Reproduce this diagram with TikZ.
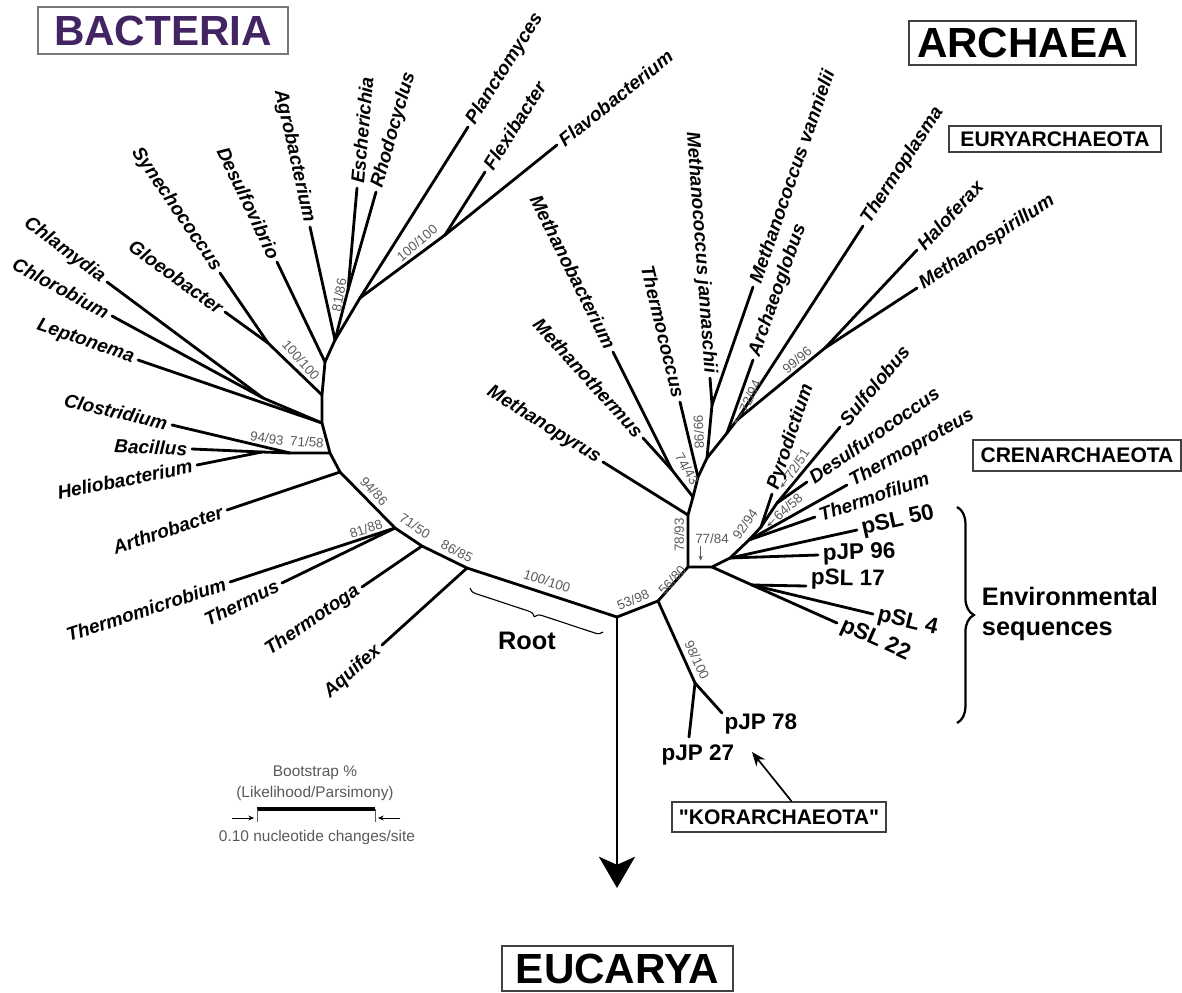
\documentclass[tikz,border=0pt]{standalone}
\usepackage{fontspec}
\setmainfont{Liberation Sans}[Ligatures=TeXOff]
\usetikzlibrary{arrows.meta}
\usetikzlibrary{decorations.pathreplacing}
\definecolor{bactpurple}{RGB}{66,36,99}
\definecolor{bootgray}{RGB}{90,90,90}
\definecolor{boxgray}{RGB}{120,120,120}
\tikzstyle{branch} = [line width=2pt, line cap=round, line join=round]
\tikzstyle{taxon} = [font=\fontsize{13.5}{15}\selectfont\bfseries\itshape, inner sep=2.5pt]
\tikzstyle{clone} = [font=\fontsize{16}{18}\selectfont\bfseries, inner sep=2.5pt]
\tikzstyle{boot} = [font=\fontsize{9.5}{11}\selectfont, text=bootgray, inner sep=1pt]
\tikzstyle{pointer} = [-{Stealth[length=3.5pt,width=3pt]}, line width=0.5pt, draw=bootgray]
\tikzstyle{bigbox} = [draw=black!75, line width=0.8pt, inner sep=0pt, font=\fontsize{30}{34}\selectfont\bfseries]
\tikzstyle{smallbox} = [draw=black!75, line width=0.8pt, inner sep=0pt, font=\fontsize{15}{17}\selectfont\bfseries]

\begin{document}
\begin{tikzpicture}[x=0.025cm, y=-0.025cm]
\useasboundingbox (0,0) rectangle (1182,992);

% domain boxes
\node[bigbox, draw=boxgray, text=bactpurple, minimum width=6.25cm, minimum height=1.175cm] (bactbox) at (163,30.5) {BACTERIA};
\node[bigbox, minimum width=5.675cm, minimum height=1.1cm] (archbox) at (1022.5,43) {ARCHAEA};
\node[bigbox, minimum width=5.775cm, minimum height=1.125cm] (eucbox) at (617.5,968.5) {EUCARYA};
\node[smallbox, minimum width=5.3cm, minimum height=0.65cm] (eurybox) at (1055,139) {EURYARCHAEOTA};
\node[smallbox, minimum width=5.2cm, minimum height=0.775cm] (crenbox) at (1077,455.5) {CRENARCHAEOTA};
\node[smallbox, minimum width=5.35cm, minimum height=0.75cm] (korbox) at (779,817) {"KORARCHAEOTA"};

% root and eucarya
\coordinate (root) at (617,617);
\coordinate (euc) at (617,888);
\draw[line width=2.1pt, -{Stealth[length=0.78cm, width=0.9cm, inset=0.2cm]}] (root) -- (euc);

% ---- bacteria ----
\coordinate (aq) at (467,568);
\coordinate (tt) at (422,546);
\coordinate (th) at (395,528);
\coordinate (ar) at (340,472);
\coordinate (bc) at (330,453);
\coordinate (lp) at (322,423);
\coordinate (gl) at (322,395);
\coordinate (ds) at (325,362);
\coordinate (pr) at (335,340);
\coordinate (firm) at (290,453);
\coordinate (bhel) at (262,452);
\coordinate (chla) at (263,398);
\coordinate (cyan) at (268,343);
\coordinate (ecrh) at (348,290);
\coordinate (plan) at (360,298);
\coordinate (flav) at (445,235);
\draw[branch] (root) -- (aq) -- (tt) -- (th) -- (ar) -- (bc) -- (lp) -- (gl) -- (ds) -- (pr);
\draw[branch] (bc) -- (firm) -- (bhel);
\draw[branch] (lp) -- (chla);
\draw[branch] (gl) -- (cyan);
\draw[branch] (pr) -- (ecrh);
\draw[branch] (pr) -- (plan) -- (flav);

\coordinate (aquifex) at (382,645);
\coordinate (thermotoga) at (362,587);
\coordinate (thermus) at (282,583);
\coordinate (thermomicrobium) at (230,582);
\coordinate (arthrobacter) at (227,510);
\coordinate (clostridium) at (172,425);
\coordinate (bacillus) at (192,449);
\coordinate (heliobacterium) at (197,465);
\coordinate (leptonema) at (138,360);
\coordinate (chlorobium) at (112,316);
\coordinate (chlamydia) at (107,282);
\coordinate (gloeobacter) at (225,312);
\coordinate (synechococcus) at (220,273);
\coordinate (desulfovibrio) at (277,262);
\coordinate (agrobacterium) at (310,227);
\coordinate (escherichia) at (357,188);
\coordinate (rhodocyclus) at (376,192);
\coordinate (planctomyces) at (468,127);
\coordinate (flexibacter) at (485,172);
\coordinate (flavobacterium) at (557,145);

\draw[branch] (aq) -- (aquifex) node[taxon, sloped, pos=1, anchor=east] (l-aquifex) {Aquifex};
\draw[branch] (tt) -- (thermotoga) node[taxon, sloped, pos=1, anchor=east] (l-thermotoga) {Thermotoga};
\draw[branch] (th) -- (thermus) node[taxon, sloped, pos=1, anchor=east] (l-thermus) {Thermus};
\draw[branch] (th) -- (thermomicrobium) node[taxon, sloped, pos=1, anchor=east] (l-thermomicrobium) {Thermomicrobium};
\draw[branch] (ar) -- (arthrobacter) node[taxon, sloped, pos=1, anchor=east] (l-arthrobacter) {Arthrobacter};
\draw[branch] (firm) -- (clostridium) node[taxon, sloped, pos=1, anchor=east] (l-clostridium) {Clostridium};
\draw[branch] (bhel) -- (bacillus) node[taxon, sloped, pos=1, anchor=east] (l-bacillus) {Bacillus};
\draw[branch] (bhel) -- (heliobacterium) node[taxon, sloped, pos=1, anchor=east] (l-heliobacterium) {Heliobacterium};
\draw[branch] (lp) -- (leptonema) node[taxon, sloped, pos=1, anchor=east] (l-leptonema) {Leptonema};
\draw[branch] (chla) -- (chlorobium) node[taxon, sloped, pos=1, anchor=east] (l-chlorobium) {Chlorobium};
\draw[branch] (chla) -- (chlamydia) node[taxon, sloped, pos=1, anchor=east] (l-chlamydia) {Chlamydia};
\draw[branch] (cyan) -- (gloeobacter) node[taxon, sloped, pos=1, anchor=east] (l-gloeobacter) {Gloeobacter};
\draw[branch] (cyan) -- (synechococcus) node[taxon, sloped, pos=1, anchor=east] (l-synechococcus) {Synechococcus};
\draw[branch] (ds) -- (desulfovibrio) node[taxon, sloped, pos=1, anchor=east] (l-desulfovibrio) {Desulfovibrio};
\draw[branch] (pr) -- (agrobacterium) node[taxon, sloped, pos=1, anchor=east] (l-agrobacterium) {Agrobacterium};
\draw[branch] (ecrh) -- (escherichia) node[taxon, sloped, pos=1, anchor=west] (l-escherichia) {Escherichia};
\draw[branch] (ecrh) -- (rhodocyclus) node[taxon, sloped, pos=1, anchor=west] (l-rhodocyclus) {Rhodocyclus};
\draw[branch] (plan) -- (planctomyces) node[taxon, sloped, pos=1, anchor=west] (l-planctomyces) {Planctomyces};
\draw[branch] (flav) -- (flexibacter) node[taxon, sloped, pos=1, anchor=west] (l-flexibacter) {Flexibacter};
\draw[branch] (flav) -- (flavobacterium) node[taxon, sloped, pos=1, anchor=west] (l-flavobacterium) {Flavobacterium};

% ---- archaea ----
\coordinate (ka) at (658,601);
\coordinate (kj) at (695,683);
\coordinate (c0) at (688,567);
\coordinate (cr) at (712,567);
\coordinate (e1) at (730,558);
\coordinate (e2) at (752,585);
\coordinate (e3) at (749,540);
\coordinate (e4) at (761,527);
\coordinate (e5) at (777,503);
\coordinate (ea) at (688,515);
\coordinate (ea2) at (693,497);
\coordinate (m1) at (672,470);
\coordinate (t1) at (698,477);
\coordinate (t2) at (707,458);
\coordinate (t3) at (712,405);
\coordinate (t4) at (727,433);
\coordinate (t5) at (737,420);
\coordinate (t6) at (825,348);
\draw[branch] (root) -- (ka) -- (c0) -- (cr) -- (e1) -- (e3) -- (e4) -- (e5);
\draw[branch] (ka) -- (kj);
\draw[branch] (cr) -- (e2);
\draw[branch] (c0) -- (ea) -- (ea2) -- (t1) -- (t2) -- (t3);
\draw[branch] (ea2) -- (m1);
\draw[branch] (t2) -- (t4) -- (t5) -- (t6);

\coordinate (methanopyrus) at (603,462);
\coordinate (methanobacterium) at (613,352);
\coordinate (methanothermus) at (643,438);
\coordinate (thermococcus) at (680,402);
\coordinate (jannaschii) at (710,378);
\coordinate (vannielii) at (753,287);
\coordinate (archaeoglobus) at (753,360);
\coordinate (thermoplasma) at (863,226);
\coordinate (haloferax) at (917,250);
\coordinate (methanospirillum) at (917,288);
\coordinate (thermofilum) at (815,517);
\coordinate (thermoproteus) at (847,485);
\coordinate (pyrodictium) at (772,494);
\coordinate (desulfurococcus) at (807,482);
\coordinate (sulfolobus) at (840,427);
\coordinate (pjp96) at (818,555);
\coordinate (psl50) at (857,530);
\coordinate (psl17) at (806,586);
\coordinate (psl4) at (873,614);
\coordinate (psl22) at (837,623);
\coordinate (pjp27) at (689,737);
\coordinate (pjp78) at (722,713);

\draw[branch] (ea) -- (methanopyrus) node[taxon, sloped, pos=1, anchor=east] (l-methanopyrus) {Methanopyrus};
\draw[branch] (m1) -- (methanobacterium) node[taxon, sloped, pos=1, anchor=east] (l-methanobacterium) {Methanobacterium};
\draw[branch] (m1) -- (methanothermus) node[taxon, sloped, pos=1, anchor=east] (l-methanothermus) {Methanothermus};
\draw[branch] (t1) -- (thermococcus) node[taxon, sloped, pos=1, anchor=east] (l-thermococcus) {Thermococcus};
\draw[branch] (t3) -- (jannaschii) node[taxon, sloped, pos=1, anchor=east] (l-jannaschii) {Methanococcus jannaschii};
\draw[branch] (t3) -- (vannielii) node[taxon, sloped, pos=1, anchor=west] (l-vannielii) {Methanococcus vannielii};
\draw[branch] (t4) -- (archaeoglobus) node[taxon, sloped, pos=1, anchor=west] (l-archaeoglobus) {Archaeoglobus};
\draw[branch] (t5) -- (thermoplasma) node[taxon, sloped, pos=1, anchor=west] (l-thermoplasma) {Thermoplasma};
\draw[branch] (t6) -- (haloferax) node[taxon, sloped, pos=1, anchor=west] (l-haloferax) {Haloferax};
\draw[branch] (t6) -- (methanospirillum) node[taxon, sloped, pos=1, anchor=west] (l-methanospirillum) {Methanospirillum};
\draw[branch] (e3) -- (thermofilum) node[taxon, sloped, pos=1, anchor=west] (l-thermofilum) {Thermofilum};
\draw[branch] (e3) -- (thermoproteus) node[taxon, sloped, pos=1, anchor=west] (l-thermoproteus) {Thermoproteus};
\draw[branch] (e4) -- (pyrodictium) node[taxon, sloped, pos=1, anchor=west] (l-pyrodictium) {Pyrodictium};
\draw[branch] (e5) -- (desulfurococcus) node[taxon, sloped, pos=1, anchor=west] (l-desulfurococcus) {Desulfurococcus};
\draw[branch] (e5) -- (sulfolobus) node[taxon, sloped, pos=1, anchor=west] (l-sulfolobus) {Sulfolobus};
\draw[branch] (e1) -- (pjp96) node[clone, sloped, pos=1, anchor=west] (l-pjp96) {pJP 96};
\draw[branch] (e1) -- (psl50) node[clone, sloped, pos=1, anchor=west] (l-psl50) {pSL 50};
\draw[branch] (e2) -- (psl17) node[clone, sloped, pos=1, anchor=west, yshift=5pt] (l-psl17) {pSL 17};
\draw[branch] (e2) -- (psl4) node[clone, sloped, pos=1, anchor=west] (l-psl4) {pSL 4};
\draw[branch] (e2) -- (psl22) node[clone, sloped, pos=1, anchor=west] (l-psl22) {pSL 22};
\draw[branch] (kj) -- (pjp27);
\draw[branch] (kj) -- (pjp78);
\node[clone] (l-pjp27) at (698,755) {pJP 27};
\node[clone] (l-pjp78) at (761,724) {pJP 78};

% bootstrap values
\node[boot, rotate=-18] (b-root) at (547,581) {100/100};
\node[boot, rotate=-27] (b-aq) at (457,551) {86/85};
\node[boot, rotate=-33] (b-tt) at (415,526) {71/50};
\node[boot, rotate=18] (b-th) at (366,529) {81/88};
\node[boot, rotate=-47] (b-ar) at (374,491) {94/86};
\node[boot, rotate=-4] (b-firm) at (307,442) {71/58};
\node[boot, rotate=-9] (b-bhel) at (267,438) {94/93};
\node[boot, rotate=-48] (b-cyan) at (301,360) {100/100};
\node[boot, rotate=80] (b-ecrh) at (339,295) {81/86};
\node[boot, rotate=40] (b-flav) at (417,243) {100/100};
\node[boot, rotate=22] (b-ka) at (633,600) {53/98};
\node[boot, rotate=48] (b-c0) at (672,580) {56/80};
\node[boot, rotate=90] (b-ea) at (679,535) {78/93};
\node[boot] (b-cr) at (712,539) {77/84};
\node[boot, rotate=-65] (b-kj) at (697,660) {98/100};
\node[boot, rotate=-60] (b-m1) at (687,469) {74/43};
\node[boot, rotate=-88] (b-t3) at (699,432) {99/98};
\node[boot, rotate=65] (b-t4) at (750,396) {72/94};
\node[boot, rotate=40] (b-t6) at (797,360) {99/96};
\node[boot, rotate=55] (b-e3) at (745,524) {92/94};
\node[boot, rotate=42] (b-e4) at (788,507) {64/58};
\node[boot, rotate=57] (b-e5) at (797,464) {72/51};
\draw[pointer] ([xshift=5pt]b-cr.south west) -- ++(0,15);
\draw[pointer] (b-t4.west) -- ++(-8,11);
\draw[pointer] (b-e4.west) -- ++(-7,7);
\draw[pointer] (b-e5.west) -- ++(-6,8);

% root brace
\coordinate (rb-r) at (603,632);
\coordinate (rb-l) at (470,588);
\draw[decorate, decoration={brace, amplitude=5pt}, line width=0.8pt] (rb-r) -- (rb-l);
\node[font=\fontsize{18}{20}\selectfont\bfseries] (rootlbl) at (527,641) {Root};

% environmental brace
\coordinate (eb-t) at (957,507);
\coordinate (eb-b) at (957,723);
\draw[decorate, decoration={brace, amplitude=12pt}, line width=1.6pt] (eb-t) -- (eb-b);
\node[align=left, anchor=west, font=\fontsize{18}{21}\selectfont\bfseries] (envlbl) at (977,614) {Environmental\\sequences};

% korarchaeota pointer
\coordinate (korpt) at (752,752);
\draw[line width=1.2pt, -{Stealth[length=10pt, width=8pt]}] ([xshift=9pt]korbox.north) -- (korpt);

% scale legend
\node[font=\fontsize{11}{13}\selectfont, text=bootgray] (lg1) at (315,773) {Bootstrap \%};
\node[font=\fontsize{11}{13}\selectfont, text=bootgray] (lg2) at (315,793) {(Likelihood/Parsimony)};
\coordinate (bar-l) at (257,809);
\coordinate (bar-r) at (375,809);
\draw[line width=2.2pt] (bar-l) -- (bar-r);
\draw[line width=0.6pt, bootgray] (bar-l) -- ++(0,13);
\draw[line width=0.6pt, bootgray] (bar-r) -- ++(0,13);
\draw[line width=0.7pt, -{Stealth[length=4pt,width=3.5pt]}] (232,818) -- (254,818);
\draw[line width=0.7pt, -{Stealth[length=4pt,width=3.5pt]}] (400,818) -- (378,818);
\node[font=\fontsize{11}{13}\selectfont, text=bootgray] (lg3) at (317,837) {0.10 nucleotide changes/site};
\end{tikzpicture}
\end{document}
